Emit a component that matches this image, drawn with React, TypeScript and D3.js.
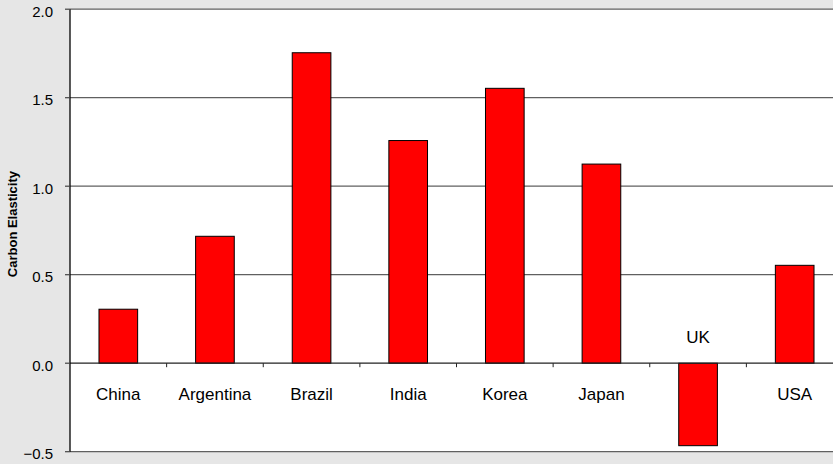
import * as d3 from "d3";

const countries = ["China", "Argentina", "Brazil", "India", "Korea", "Japan", "UK", "USA"];
const elasticity = [0.305, 0.717, 1.754, 1.258, 1.553, 1.125, -0.466, 0.553];
const yTicks = [-0.5, 0.0, 0.5, 1.0, 1.5, 2.0];

const width = 833;
const height = 464;
const margin = { top: 9.2, left: 70, bottom: 451.7, right: 843 };

export default function App() {
	const x = d3.scaleBand(countries, [margin.left, margin.right]).paddingInner(0.6).paddingOuter(0.3);
	const y = d3.scaleLinear([-0.5, 2.0], [margin.bottom, margin.top]);
	const bounds = d3.scaleBand(countries, [margin.left, margin.right]);
	const font = "'Liberation Sans', Arial, sans-serif";
	const data = countries.map((c, i) => ({ c, v: elasticity[i] }));

	return (
		<svg width={width} height={height} style={{ position: "fixed", left: 0, top: 0, display: "block" }} fontFamily={font}>
			<rect width={width} height={height} fill="#e6e6e6" />
			<rect x={margin.left} y={margin.top} width={margin.right - margin.left} height={margin.bottom - margin.top} fill="white" />
			{/* gridlines */}
			<g stroke="#606060" strokeWidth="1.3">
				{yTicks.filter(t => t !== 0).map(t => (
					<line key={t} x1={margin.left} x2={margin.right} y1={y(t)} y2={y(t)} />
				))}
			</g>
			{/* bars */}
			<g fill="#ff0000" stroke="#000" strokeWidth="1">
				{data.map(d => (
					<rect key={d.c} x={x(d.c)} width={x.bandwidth()}
						y={y(Math.max(0, d.v))} height={Math.abs(y(d.v) - y(0))} />
				))}
			</g>
			{/* zero line with category ticks */}
			<line x1={margin.left} x2={margin.right} y1={y(0)} y2={y(0)} stroke="#222" strokeWidth="1.3" />
			<g stroke="#222" strokeWidth="1">
				{countries.slice(1).map(c => (
					<line key={c} x1={bounds(c)} x2={bounds(c)} y1={y(0)} y2={y(0) + 4} />
				))}
			</g>
			{/* left axis */}
			<line x1={margin.left} x2={margin.left} y1={margin.top} y2={margin.bottom} stroke="#000" strokeWidth="1.3" />
			<g stroke="#444" strokeWidth="1.2">
				{yTicks.map(t => (
					<line key={t} x1={margin.left - 5} x2={margin.left} y1={y(t)} y2={y(t)} />
				))}
			</g>
			<g fontSize="15" textAnchor="end" fill="#000">
				{yTicks.map(t => (
					<text key={t} x={margin.left - 17} y={y(t)} dy="0.5em">{d3.format(".1f")(t)}</text>
				))}
			</g>
			{/* category labels */}
			<g fontSize="17" textAnchor="middle" fill="#000">
				{data.map(d => (
					<text key={d.c} x={(x(d.c) ?? 0) + x.bandwidth() / 2} y={d.v >= 0 ? y(0) + 36.5 : y(0) - 20.5}>{d.c}</text>
				))}
			</g>
			<text transform={`translate(17,${y(0.786)}) rotate(-90)`} textAnchor="middle"
				fontSize="13" fontWeight="bold" fill="#000">Carbon Elasticity</text>
		</svg>
	);
}
